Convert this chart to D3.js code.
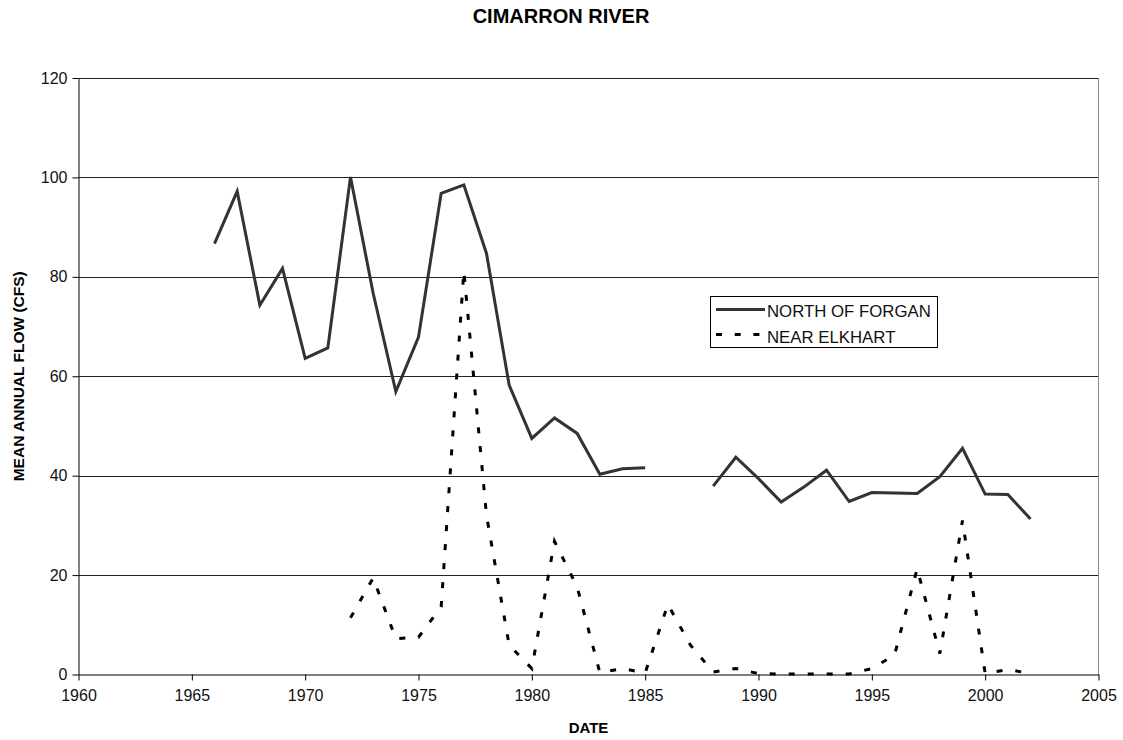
<!DOCTYPE html>
<html>
<head>
<meta charset="utf-8">
<script src="https://cdn.jsdelivr.net/npm/d3@7"></script>
<style>
  body { margin: 0; background: #fff; }
  text { font-family: "Liberation Sans", Arial, sans-serif; }
</style>
</head>
<body>
<div id="chart"></div>
<script>
// yearly values
var forganYears = [1966, 1967, 1968, 1969, 1970, 1971, 1972, 1973, 1974, 1975, 1976, 1977, 1978, 1979, 1980,
    1981, 1982, 1983, 1984, 1985, 1986, 1987, 1988, 1989, 1990, 1991, 1992, 1993, 1994, 1995, 1996,
    1997, 1998, 1999, 2000, 2001, 2002];
var forganFlow = [86.7, 97.2, 74.3, 81.7, 63.6, 65.7, 100.1, 76.7, 56.9, 67.9, 96.8, 98.5, 84.7, 58.2, 47.5,
    51.6, 48.5, 40.3, 41.4, 41.6, null, null, 37.9, 43.7, 39.4, 34.7, 37.7, 41.1, 34.8, 36.6, 36.5,
    36.4, 39.8, 45.5, 36.3, 36.2, 31.3];

var elkhartYears = [1972, 1973, 1974, 1975, 1976, 1977, 1978, 1979, 1980, 1981, 1982, 1983, 1984, 1985,
    1986, 1987, 1988, 1989, 1990, 1991, 1992, 1993, 1994, 1995, 1996, 1997, 1998, 1999, 2000, 2001, 2002];
var elkhartFlow = [11.4, 19.4, 7.2, 7.5, 13.6, 81.2, 32, 5.9, 1.2, 26.8, 17.6, 0.4, 1.2, 0.3,
    14.1, 5.9, 0.5, 1.2, 0.2, 0.1, 0.1, 0.1, 0.1, 1.2, 3.9, 21.3, 4.2, 31.0, 0.2, 1.0, 0.2];

var xTicks = [1960, 1965, 1970, 1975, 1980, 1985, 1990, 1995, 2000, 2005];
var yTicks = [0, 20, 40, 60, 80, 100, 120];

var W = 1123, H = 740;
var plotLeft = 78.5, plotRight = 1098.5, plotTop = 78, plotBottom = 674.5;

var svg = d3.select("#chart").append("svg")
    .attr("width", W)
    .attr("height", H);

var x = d3.scaleLinear().domain([1960, 2005]).range([plotLeft, plotRight]);
var y = d3.scaleLinear().domain([0, 120]).range([plotBottom, plotTop]);

//gridlines
svg.append("g")
    .selectAll("line")
    .data(yTicks.filter(d => d > 0))
    .enter().append("line")
    .attr("x1", plotLeft).attr("x2", plotRight)
    .attr("y1", d => Math.round(y(d)) + 0.5)
    .attr("y2", d => Math.round(y(d)) + 0.5)
    .attr("stroke", "#222")
    .attr("stroke-width", 1);

//right border of plot area
svg.append("line")
    .attr("x1", plotRight).attr("x2", plotRight)
    .attr("y1", plotTop).attr("y2", plotBottom)
    .attr("stroke", "#888");

//x axis
var xAxis = svg.append("g")
    .attr("transform", "translate(0," + plotBottom + ")")
    .call(d3.axisBottom(x).tickValues(xTicks).tickFormat(d3.format("d")).tickSize(6).tickSizeOuter(0));
xAxis.selectAll("text").style("font-size", "16px").attr("dy", "1.1em").attr("fill", "#111");

//y axis
var yAxis = svg.append("g")
    .attr("transform", "translate(" + plotLeft + ",0)")
    .call(d3.axisLeft(y).tickValues(yTicks).tickSize(6).tickSizeOuter(0));
yAxis.selectAll("text").style("font-size", "16px").attr("x", -11).attr("fill", "#111");
svg.selectAll(".domain").attr("stroke", "#000");
svg.selectAll(".tick line").attr("stroke", "#000");

//lines
var forgan = forganYears.map((d, i) => ({year: d, v: forganFlow[i]}));
var elkhart = elkhartYears.map((d, i) => ({year: d, v: elkhartFlow[i]}));

var line = d3.line()
    .defined(d => d.v != null)
    .x(d => x(d.year))
    .y(d => y(d.v));

svg.append("path")
    .datum(elkhart)
    .attr("d", line)
    .attr("fill", "none")
    .attr("stroke", "#000")
    .attr("stroke-width", 3)
    .attr("stroke-dasharray", "6,13");

svg.append("path")
    .datum(forgan)
    .attr("d", line)
    .attr("fill", "none")
    .attr("stroke", "#333")
    .attr("stroke-width", 3)
    .attr("stroke-linejoin", "miter");

//title and axis labels
svg.append("text")
    .attr("x", 561).attr("y", 23)
    .attr("text-anchor", "middle")
    .style("font-size", "20px")
    .style("font-weight", "bold")
    .text("CIMARRON RIVER");

svg.append("text")
    .attr("x", (plotLeft + plotRight) / 2).attr("y", 733)
    .attr("text-anchor", "middle")
    .style("font-size", "15px")
    .style("font-weight", "bold")
    .text("DATE");

svg.append("text")
    .attr("transform", "translate(24," + ((plotTop + plotBottom) / 2) + ") rotate(-90)")
    .attr("text-anchor", "middle")
    .style("font-size", "15.5px")
    .style("font-weight", "bold")
    .text("MEAN ANNUAL FLOW (CFS)");

//legend
var legend = svg.append("g").attr("transform", "translate(710,296)");
legend.append("rect")
    .attr("x", 0.5).attr("y", 0.5)
    .attr("width", 227).attr("height", 51)
    .attr("fill", "#fff")
    .attr("stroke", "#000");

var legendItems = [
    {name: "NORTH OF FORGAN", color: "#333", dash: null},
    {name: "NEAR ELKHART", color: "#000", dash: "6,12.7"}
];
legendItems.forEach((d, i) => {
    legend.append("line")
        .attr("x1", 6).attr("x2", 55)
        .attr("y1", 13.5 + i * 25).attr("y2", 13.5 + i * 25)
        .attr("stroke", d.color)
        .attr("stroke-width", 3)
        .attr("stroke-dasharray", d.dash);
    legend.append("text")
        .attr("x", 57).attr("y", 20.5 + i * 26)
        .style("font-size", "16.8px")
        .attr("fill", "#111")
        .text(d.name);
});
</script>
</body>
</html>
